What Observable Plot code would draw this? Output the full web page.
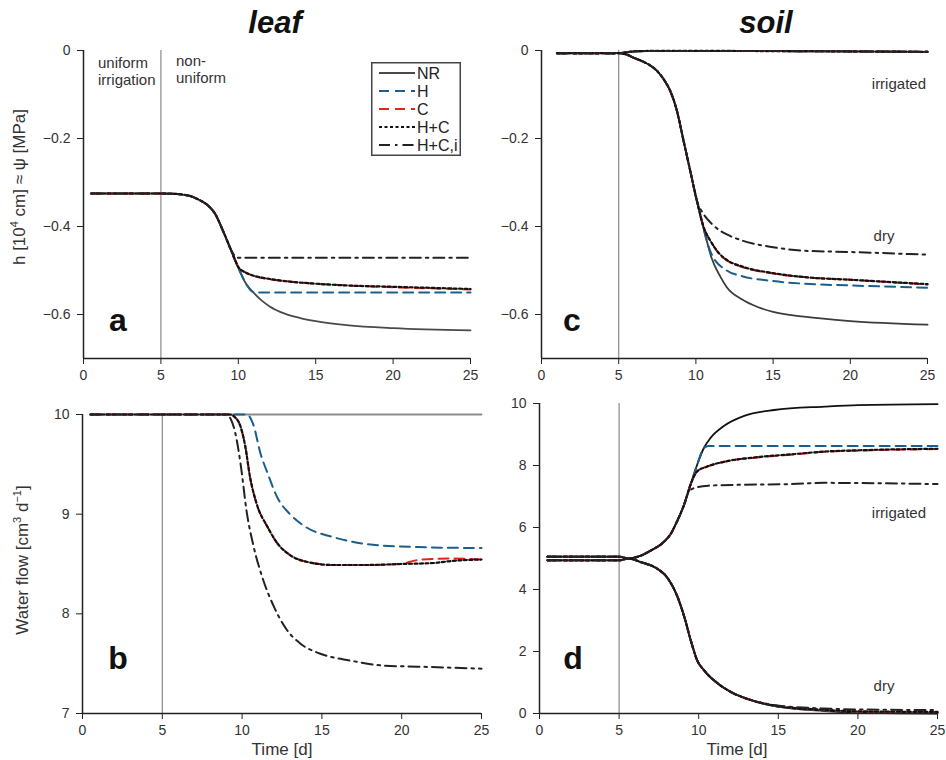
<!DOCTYPE html>
<html><head><meta charset="utf-8">
<script src="https://cdn.jsdelivr.net/npm/d3@7"></script>
<script src="https://cdn.jsdelivr.net/npm/@observablehq/plot@0.6"></script>
<style>
body{margin:0;background:#fff;font-family:"Liberation Sans",Arial,sans-serif;}
#wrap{position:relative;width:946px;height:760px;overflow:hidden;background:#fff;}
.abs{position:absolute;white-space:nowrap;color:#333;}
.title{font-weight:bold;font-style:italic;font-size:31px;color:#111;transform:translate(-50%,-50%);}
.letter{font-weight:bold;font-size:32px;color:#111;transform:translate(-50%,-50%);}
.note{font-size:15px;line-height:17px;color:#333;}
.ylab{font-size:17px;color:#333;transform:translate(-50%,-50%) rotate(-90deg);}
.xlab{font-size:17px;color:#333;transform:translate(-50%,-50%);}
</style></head><body><div id="wrap"></div>
<script>
// ---------- tick values & categories ----------
const dayTicks = [0, 5, 10, 15, 20, 25];
const headTicks = [0, -0.2, -0.4, -0.6];
const leafFlowTicks = [7, 8, 9, 10];
const soilFlowTicks = [0, 2, 4, 6, 8, 10];
const switchDay = [5];
const seriesNames = ["NR", "H", "C", "H+C", "H+C,i"];

// ---------- panel a: leaf pressure head ----------
const leafHShared = [[0.5,-0.325],[5,-0.325],[6,-0.326],[6.5,-0.328],[7,-0.332],[7.5,-0.34],[8,-0.351],[8.5,-0.371],[9,-0.409],[9.5,-0.451]];
const leafH_NR  = [...leafHShared,[10,-0.494],[10.5,-0.53],[11,-0.551],[11.5,-0.568],[12,-0.581],[13,-0.598],[14,-0.608],[15,-0.615],[17,-0.624],[20,-0.631],[25,-0.636]];
const leafH_H   = [...leafHShared,[10,-0.494],[10.5,-0.53],[10.9,-0.548],[11.3,-0.55],[25,-0.55]];
const leafH_C   = [...leafHShared,[9.8,-0.477],[10,-0.491],[10.5,-0.505],[11,-0.512],[12,-0.52],[13,-0.524],[15,-0.53],[17,-0.534],[20,-0.538],[25,-0.543]];
const leafH_HC  = [...leafHShared,[9.8,-0.477],[10,-0.492],[10.5,-0.505],[11,-0.512],[12,-0.519],[13,-0.524],[15,-0.53],[17,-0.534],[20,-0.537],[25,-0.542]];
const leafH_HCi = [...leafHShared,[9.75,-0.466],[10,-0.471],[25,-0.471]];

// ---------- panel b: leaf water flow ----------
const leafQ_NR  = [[0.5,10],[25,10]];
const leafQ_H   = [[0.5,10],[10.3,10],[10.7,9.9],[11.15,9.61],[11.6,9.41],[12.2,9.17],[13,9.0],[14,8.87],[15.7,8.77],[17.8,8.7],[21,8.67],[25,8.66]];
const leafQ_C   = [[0.5,10],[9.2,10],[9.5,9.98],[9.9,9.88],[10.2,9.68],[10.5,9.37],[10.9,9.11],[11.6,8.87],[12.2,8.71],[13,8.59],[14.1,8.52],[15.7,8.49],[17.8,8.49],[19.9,8.5],[21,8.54],[23.1,8.555],[25,8.545]];
const leafQ_HC  = [[0.5,10],[9.2,10],[9.5,9.98],[9.9,9.88],[10.2,9.68],[10.5,9.37],[10.9,9.11],[11.6,8.87],[12.2,8.71],[13,8.59],[14.1,8.52],[15.7,8.49],[17.8,8.49],[19.9,8.5],[22,8.51],[23.1,8.53],[25,8.545]];
const leafQ_HCi = [[0.5,10],[9,10],[9.27,9.96],[9.58,9.81],[9.9,9.51],[10.3,9.01],[10.73,8.67],[11.26,8.37],[12,8.07],[12.8,7.84],[13.66,7.7],[14.9,7.6],[16.8,7.53],[18.9,7.48],[21,7.47],[25,7.45]];

// ---------- panel c: soil pressure head (irrigated / dry) ----------
const soilHIrr   = [[1,-0.006],[5,-0.006],[5.5,-0.004],[6,-0.002],[7,-0.001],[10,-0.001],[25,-0.003]];
const soilHDryShared = [[1,-0.006],[5,-0.006],[5.5,-0.009],[6,-0.017],[6.5,-0.024],[7,-0.033],[7.5,-0.047],[8,-0.07],[8.34,-0.092],[8.77,-0.137],[9.2,-0.205],[9.63,-0.273],[10.06,-0.341]];
const soilHDry_NR  = [...soilHDryShared,[10.5,-0.405],[10.7,-0.432],[11,-0.47],[11.6,-0.515],[12,-0.538],[13,-0.566],[14,-0.583],[15,-0.594],[17,-0.605],[20,-0.615],[25,-0.623]];
const soilHDry_H   = [...soilHDryShared,[10.5,-0.405],[10.7,-0.432],[11,-0.462],[12,-0.5],[13,-0.513],[15,-0.524],[17,-0.53],[20,-0.534],[25,-0.539]];
const soilHDry_C   = [...soilHDryShared,[10.5,-0.401],[11,-0.436],[11.5,-0.462],[12,-0.477],[13,-0.492],[15,-0.507],[17,-0.515],[20,-0.521],[25,-0.532]];
const soilHDry_HC  = [...soilHDryShared,[10.5,-0.401],[11,-0.436],[11.5,-0.461],[12,-0.476],[13,-0.491],[15,-0.506],[17,-0.515],[20,-0.521],[25,-0.531]];
const soilHDry_HCi = [...soilHDryShared,[10.5,-0.372],[11,-0.393],[11.5,-0.408],[12,-0.418],[13,-0.432],[15,-0.447],[17,-0.455],[20,-0.458],[25,-0.464]];

// ---------- panel d: soil water flow (irrigated / dry) ----------
const soilQIrrShared = [[0.5,5.06],[5,5.06],[5.6,5.0],[6.4,5.1],[7,5.26],[7.8,5.53],[8.25,5.8],[8.66,6.22],[9.1,6.76],[9.5,7.4]];
const soilQIrr_NR  = [...soilQIrrShared,[9.92,8.05],[10.34,8.58],[10.76,8.9],[11.6,9.28],[12.86,9.6],[14.74,9.79],[17.9,9.9],[20,9.95],[25,9.98]];
const soilQIrr_H   = [...soilQIrrShared,[9.92,8.05],[10.3,8.55],[10.6,8.63],[25,8.63]];
const soilQIrr_C   = [...soilQIrrShared,[9.9,7.81],[10.5,7.96],[11.6,8.12],[13.7,8.26],[15.8,8.35],[17.9,8.44],[20,8.48],[25,8.53]];
const soilQIrr_HC  = [...soilQIrrShared,[9.9,7.81],[10.5,7.96],[11.6,8.12],[13.7,8.27],[15.8,8.36],[17.9,8.45],[20,8.49],[25,8.54]];
const soilQIrr_HCi = [[0.5,5.06],[5,5.06],[5.6,5.0],[6.4,5.1],[7,5.26],[7.8,5.53],[8.25,5.8],[8.66,6.22],[9.1,6.76],[9.3,7.08],[9.7,7.27],[10.6,7.35],[12.7,7.38],[15.8,7.4],[17.9,7.44],[21,7.43],[25,7.4]];
const soilQDryShared = [[0.5,4.94],[5,4.94],[5.6,5.0],[6.37,4.88],[7.4,4.67],[8,4.4],[8.67,3.76],[9.1,3.11],[9.5,2.36],[9.9,1.72],[10.34,1.39],[11.2,0.97],[12,0.7],[13.3,0.43]];
const soilQDry_NR  = [...soilQDryShared,[14.95,0.22],[17.9,0.08],[20,0.03],[25,0.0]];
const soilQDry_H   = [...soilQDryShared,[14.95,0.23],[17.9,0.1],[20,0.05],[25,0.03]];
const soilQDry_C   = [...soilQDryShared,[14.95,0.24],[17.9,0.11],[20,0.06],[25,0.03]];
const soilQDry_HC  = [...soilQDryShared,[14.95,0.24],[17.9,0.12],[20,0.07],[25,0.05]];
const soilQDry_HCi = [...soilQDryShared,[14.95,0.26],[17.9,0.16],[20,0.13],[25,0.11]];

// ---------- styles ----------
const lineStyle = {
  "NR":    {stroke: "#4a4a4a", strokeWidth: 1.8},
  "H":     {stroke: "#1b5e8e", strokeWidth: 2, strokeDasharray: "10,6"},
  "C":     {stroke: "#e3241c", strokeWidth: 2, strokeDasharray: "10,6"},
  "H+C":   {stroke: "#111", strokeWidth: 2.2, strokeDasharray: "3,2.5"},
  "H+C,i": {stroke: "#222", strokeWidth: 2, strokeDasharray: "11,5,2.5,5"}
};

const fmt1 = d => d === 0 ? "0" : d3.format(".1f")(d);
const fmt0 = d => String(d);

function panel(o) {
  const marks = [
    Plot.ruleX(switchDay, {stroke: "#8a8a8a", strokeWidth: 1.2})
  ];
  o.lines.forEach(([name, data]) => {
    const s = Object.assign({}, lineStyle[name]);
    if (name === "NR" && o.nrColor) s.stroke = o.nrColor;
    marks.push(Plot.line(data, {x: d => d[0], y: d => d[1], curve: "monotone-x", ...s}));
  });
  marks.push(
    Plot.ruleX([0], {stroke: "#222", strokeWidth: 1.5}),
    Plot.ruleY([o.yDomain[0]], {stroke: "#222", strokeWidth: 1.5}),
    Plot.axisX({ticks: dayTicks, tickSize: 6, tickPadding: 6, tickFormat: fmt0, label: null, stroke: "#222"}),
    Plot.axisY({ticks: o.yTicks, tickSize: 6, tickPadding: 7, tickFormat: o.fmt, label: null, stroke: "#222"})
  );
  const svg = Plot.plot({
    width: o.width, height: o.height,
    marginLeft: o.ml, marginRight: o.mr, marginTop: o.mt, marginBottom: o.mb,
    x: {domain: [0, 25]},
    y: {domain: o.yDomain},
    style: {fontFamily: "'Liberation Sans', Arial, sans-serif", fontSize: "14px", color: "#333", background: "transparent", overflow: "visible"},
    marks
  });
  svg.style.position = "absolute";
  svg.style.left = o.left + "px";
  svg.style.top = o.top + "px";
  document.getElementById("wrap").appendChild(svg);
}

// panel a
panel({left: 0, top: 40, width: 490, height: 350, ml: 83, mr: 20, mt: 10, mb: 32,
  yDomain: [-0.7, 0], yTicks: headTicks, fmt: fmt1,
  lines: [["NR", leafH_NR], ["H", leafH_H], ["C", leafH_C], ["H+C", leafH_HC], ["H+C,i", leafH_HCi]]});
// panel b
panel({left: 0, top: 390, width: 500, height: 370, ml: 82, mr: 19, mt: 24, mb: 47,
  yDomain: [7, 10], yTicks: leafFlowTicks, fmt: fmt0, nrColor: "#8c8c8c",
  lines: [["NR", leafQ_NR], ["H", leafQ_H], ["C", leafQ_C], ["H+C", leafQ_HC], ["H+C,i", leafQ_HCi]]});
// panel c
panel({left: 490, top: 40, width: 456, height: 350, ml: 51, mr: 19, mt: 10, mb: 32,
  yDomain: [-0.7, 0], yTicks: headTicks, fmt: fmt1, nrColor: "#3c3c3c",
  lines: [["NR", soilHIrr], ["H", soilHIrr], ["C", soilHIrr], ["H+C", soilHIrr], ["H+C,i", soilHIrr],
          ["NR", soilHDry_NR], ["H", soilHDry_H], ["C", soilHDry_C], ["H+C", soilHDry_HC], ["H+C,i", soilHDry_HCi]]});
// panel d
panel({left: 490, top: 390, width: 456, height: 370, ml: 49, mr: 9, mt: 13, mb: 47,
  yDomain: [0, 10], yTicks: soilFlowTicks, fmt: fmt0, nrColor: "#111",
  lines: [["NR", soilQIrr_NR], ["H", soilQIrr_H], ["C", soilQIrr_C], ["H+C", soilQIrr_HC], ["H+C,i", soilQIrr_HCi],
          ["NR", soilQDry_NR], ["H", soilQDry_H], ["C", soilQDry_C], ["H+C", soilQDry_HC], ["H+C,i", soilQDry_HCi]]});

// ---------- text overlays ----------
const wrap = document.getElementById("wrap");
function addText(html, cls, x, y) {
  const el = document.createElement("div");
  el.className = "abs " + cls;
  el.innerHTML = html;
  el.style.left = x + "px";
  el.style.top = y + "px";
  wrap.appendChild(el);
  return el;
}
addText("leaf", "title", 275, 23);
addText("soil", "title", 766, 23);
addText("a", "letter", 118, 320);
addText("b", "letter", 118, 658);
addText("c", "letter", 572, 320);
addText("d", "letter", 573, 658);
addText("uniform<br>irrigation", "note", 98, 54);
addText("non-<br>uniform", "note", 176, 52);
addText("h [10<sup style='font-size:11px'>4</sup> cm] ≈ ψ [MPa]", "ylab", 19, 187);
addText("Water flow [cm<sup style='font-size:11px'>3</sup> d<sup style='font-size:11px'>−1</sup>]", "ylab", 22, 560);
addText("Time [d]", "xlab", 282, 750);
addText("Time [d]", "xlab", 737, 750);
const irr1 = addText("irrigated", "note", 926, 83); irr1.style.transform = "translate(-100%,-50%)";
const dry1 = addText("dry", "note", 884, 235); dry1.style.transform = "translate(-50%,-50%)";
const irr2 = addText("irrigated", "note", 926, 512); irr2.style.transform = "translate(-100%,-50%)";
const dry2 = addText("dry", "note", 884, 685); dry2.style.transform = "translate(-50%,-50%)";

// ---------- legend ----------
const leg = d3.select("#wrap").append("svg")
  .attr("width", 90).attr("height", 94)
  .style("position", "absolute").style("left", "371px").style("top", "62px");
leg.append("rect").attr("x", 0.75).attr("y", 0.75).attr("width", 88.5).attr("height", 92.5)
  .attr("fill", "#fff").attr("stroke", "#444").attr("stroke-width", 1.5);
seriesNames.forEach((name, i) => {
  const y = 11 + i * 18;
  const s = lineStyle[name];
  leg.append("line").attr("x1", 8).attr("x2", 44).attr("y1", y).attr("y2", y)
    .attr("stroke", s.stroke).attr("stroke-width", s.strokeWidth)
    .attr("stroke-dasharray", s.strokeDasharray || null);
  leg.append("text").attr("x", 46).attr("y", y).attr("dy", "0.35em")
    .attr("font-family", "'Liberation Sans', Arial, sans-serif").attr("font-size", 16).attr("fill", "#222")
    .text(name);
});
</script>
</body></html>
